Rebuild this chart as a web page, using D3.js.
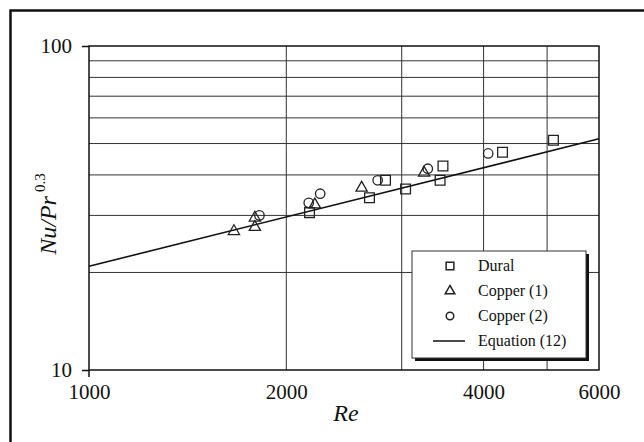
<!DOCTYPE html>
<html>
<head>
<meta charset="utf-8">
<script src="https://cdn.jsdelivr.net/npm/d3@7"></script>
<style>
  html, body { margin: 0; background: #fff; overflow: hidden; }
  svg { display: block; }
</style>
</head>
<body>
<div id="chart"></div>
<script>
// data
const duralRe = [2170, 2679, 2834, 3041, 3433, 3468, 4275, 5112];
const duralNu = [30.6, 34.0, 38.5, 36.2, 38.5, 42.6, 47.0, 51.2];
const cu1Re = [1664, 1791, 1791, 2211, 2606, 3245];
const cu1Nu = [26.8, 27.6, 29.5, 32.4, 36.5, 40.6];
const cu2Re = [1820, 2164, 2253, 2757, 3288, 4065];
const cu2Nu = [30.0, 32.8, 35.0, 38.5, 41.8, 46.6];
const eqRe = [1000, 6000];
const eqNu = [20.9, 51.7];
const xGrid = [2000, 3000, 4000, 5000];
const yGrid = [20, 30, 40, 50, 60, 70, 80, 90];
const xLabels = [1000, 2000, 4000, 6000];
const yLabels = [10, 100];
const legendNames = ["Dural", "Copper (1)", "Copper (2)", "Equation (12)"];

const W = 644, H = 442;
const pL = 89, pR = 599, pT = 46, pB = 370;
const serif = "'Liberation Serif', 'Times New Roman', serif";

const svg = d3.select("#chart").append("svg")
    .attr("width", W).attr("height", H)
    .attr("font-family", serif);

const x = d3.scaleLog().domain([1000, 6000]).range([pL, pR]);
const y = d3.scaleLog().domain([10, 100]).range([pB, pT]);

// outer frame (left + top only visible)
svg.append("path")
    .attr("d", `M10.5,${H} L10.5,10.5 L${W},10.5`)
    .attr("fill", "none").attr("stroke", "#111").attr("stroke-width", 2.5);

// grid
svg.selectAll(".hg").data(yGrid).enter().append("line")
    .attr("x1", pL).attr("x2", pR)
    .attr("y1", d => y(d)).attr("y2", d => y(d))
    .attr("stroke", "#333").attr("stroke-width", 1);
svg.selectAll(".vg").data(xGrid).enter().append("line")
    .attr("x1", d => x(d)).attr("x2", d => x(d))
    .attr("y1", pT).attr("y2", pB)
    .attr("stroke", "#333").attr("stroke-width", 1);

// plot border
svg.append("rect")
    .attr("x", pL).attr("y", pT)
    .attr("width", pR - pL).attr("height", pB - pT)
    .attr("fill", "none").attr("stroke", "#111").attr("stroke-width", 1.5);

// axes ticks (only at the ends)
const yAxis = d3.axisLeft(y).tickValues(yLabels).tickSize(7).tickPadding(10)
    .tickFormat(d3.format("d"));
svg.append("g").attr("transform", `translate(${pL},0)`).call(yAxis)
    .attr("font-family", serif)
    .call(g => g.select(".domain").remove())
    .call(g => g.selectAll("line").attr("stroke", "#111").attr("stroke-width", 1.5))
    .call(g => g.selectAll("text").attr("font-size", 21).attr("fill", "#111"));

const xAxis = d3.axisBottom(x).tickValues(xLabels).tickSize(0).tickPadding(14)
    .tickFormat(d3.format("d"));
svg.append("g").attr("transform", `translate(0,${pB})`).call(xAxis)
    .attr("font-family", serif)
    .call(g => g.select(".domain").remove())
    .call(g => g.selectAll("text").attr("font-size", 21).attr("fill", "#111"));
svg.append("line")
    .attr("x1", x(1000)).attr("x2", x(1000))
    .attr("y1", pB).attr("y2", pB + 7)
    .attr("stroke", "#111").attr("stroke-width", 1.5);

// axis titles
svg.append("text")
    .attr("x", 346).attr("y", 421)
    .attr("text-anchor", "middle")
    .attr("font-size", 24).attr("font-style", "italic").attr("fill", "#111")
    .text("Re");

const yt = svg.append("text")
    .attr("transform", "translate(56,214) rotate(-90)")
    .attr("text-anchor", "middle")
    .attr("font-size", 24).attr("font-style", "italic").attr("fill", "#111");
yt.append("tspan").text("Nu/Pr");
yt.append("tspan").attr("dy", -11).attr("dx", 4).attr("font-size", 15)
    .attr("font-style", "normal").text("0.3");

// equation line
const line = d3.line().x(d => x(d[0])).y(d => y(d[1]));
svg.append("path")
    .datum(eqRe.map((r, i) => [r, eqNu[i]]))
    .attr("d", line)
    .attr("fill", "none").attr("stroke", "#111").attr("stroke-width", 1.6);

const sq = d3.symbol().type(d3.symbolSquare).size(95);
const tri = d3.symbol().type(d3.symbolTriangle).size(55);
const circ = d3.symbol().type(d3.symbolCircle).size(70);

function drawPoints(re, nu, sym) {
    svg.append("g").selectAll("path")
        .data(re.map((r, i) => [r, nu[i]]))
        .enter().append("path")
        .attr("d", sym)
        .attr("transform", d => `translate(${x(d[0])},${y(d[1])})`)
        .attr("fill", "none").attr("stroke", "#222").attr("stroke-width", 1.3);
}
drawPoints(duralRe, duralNu, sq);
drawPoints(cu1Re, cu1Nu, tri);
drawPoints(cu2Re, cu2Nu, circ);

// legend
const lg = svg.append("g");
lg.append("rect").attr("x", 415).attr("y", 254).attr("width", 174).attr("height", 107)
    .attr("fill", "#111");
lg.append("rect").attr("x", 412).attr("y", 251).attr("width", 174).attr("height", 107)
    .attr("fill", "#fff").attr("stroke", "#333").attr("stroke-width", 1);

const rowY = [266, 291, 316, 341];
const syms = [
    d3.symbol().type(d3.symbolSquare).size(60),
    d3.symbol().type(d3.symbolTriangle).size(40),
    d3.symbol().type(d3.symbolCircle).size(45)
];
syms.forEach((s, i) => {
    lg.append("path").attr("d", s)
        .attr("transform", `translate(450,${rowY[i]})`)
        .attr("fill", "none").attr("stroke", "#222").attr("stroke-width", 1.5);
});
lg.append("line").attr("x1", 433).attr("x2", 465)
    .attr("y1", rowY[3]).attr("y2", rowY[3])
    .attr("stroke", "#111").attr("stroke-width", 1.5);
lg.selectAll(".lt").data(legendNames).enter().append("text")
    .attr("x", 478).attr("y", (d, i) => rowY[i] + 5)
    .attr("font-size", 16).attr("fill", "#111")
    .text(d => d);
</script>
</body>
</html>
